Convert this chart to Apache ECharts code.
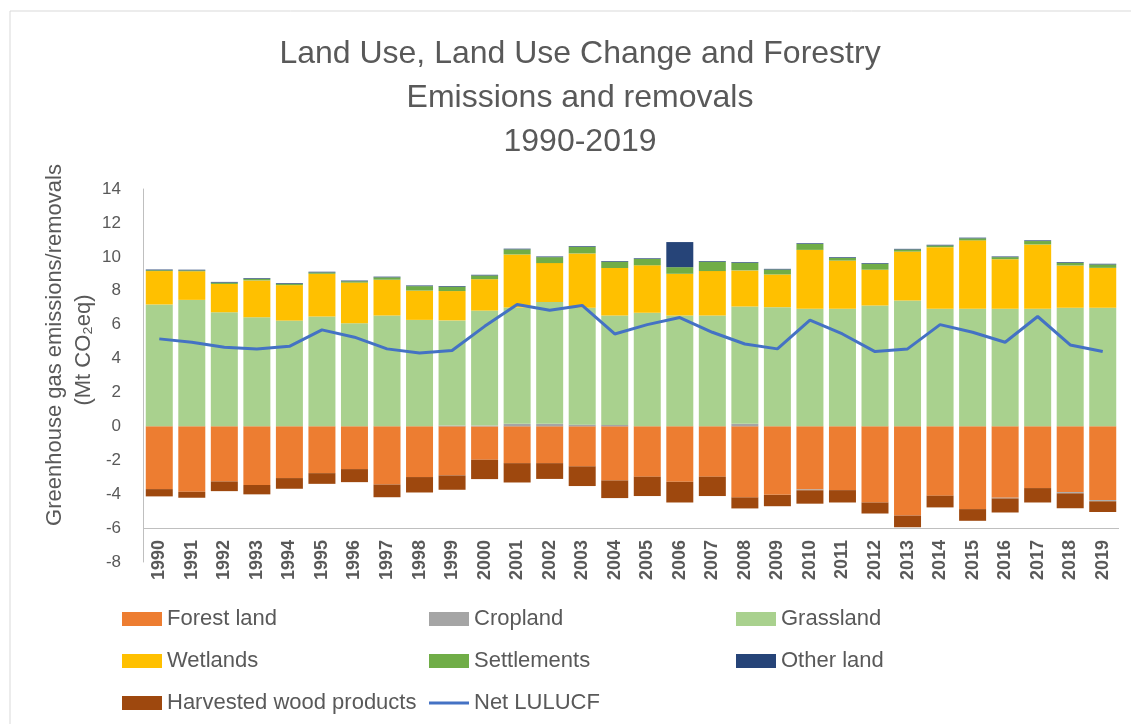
<!DOCTYPE html>
<html>
<head>
<meta charset="utf-8">
<script src="https://cdn.jsdelivr.net/npm/echarts@6/dist/echarts.min.js"></script>
<style>
html,body{margin:0;padding:0;background:#fff;}
#chart{width:1131px;height:724px;}
</style>
</head>
<body>
<div id="chart"></div>
<script>
const years = ['1990','1991','1992','1993','1994','1995','1996','1997','1998','1999','2000','2001','2002','2003','2004','2005','2006','2007','2008','2009','2010','2011','2012','2013','2014','2015','2016','2017','2018','2019'];
const forestLand = [-3.70,-3.86,-3.25,-3.46,-3.05,-2.76,-2.52,-3.43,-2.99,-2.89,-1.97,-2.17,-2.17,-2.36,-3.19,-2.97,-3.27,-2.97,-4.19,-4.04,-3.72,-3.76,-4.49,-5.26,-4.09,-4.88,-4.21,-3.64,-3.88,-4.35];
const cropland = [0,0,0,0,0,0,0,0,0,0.05,0.05,0.15,0.15,0.10,0.08,0,0,0,0.15,0,-0.05,0,0,0,0,0,-0.04,0,-0.07,-0.07];
const grassland = [7.19,7.46,6.73,6.44,6.24,6.48,6.08,6.54,6.28,6.20,6.78,6.86,7.18,6.90,6.46,6.70,6.54,6.54,6.92,7.03,6.93,6.93,7.13,7.42,6.93,6.93,6.93,6.93,6.99,6.99];
const wetlands = [1.97,1.69,1.67,2.17,2.09,2.52,2.40,2.11,1.73,1.73,1.85,3.13,2.30,3.20,2.80,2.80,2.46,2.62,2.13,1.93,3.48,2.85,2.11,2.89,3.64,4.04,2.93,3.80,2.50,2.36];
const settlements = [0.05,0.05,0.08,0.09,0.08,0.08,0.08,0.14,0.26,0.26,0.22,0.30,0.35,0.39,0.37,0.37,0.39,0.55,0.45,0.29,0.35,0.16,0.35,0.12,0.10,0.12,0.12,0.20,0.16,0.20];
const otherLand = [0.04,0.04,0.04,0.04,0.04,0.04,0.04,0.04,0.04,0.04,0.04,0.04,0.04,0.04,0.04,0.04,1.48,0.04,0.04,0.04,0.04,0.04,0.04,0.04,0.04,0.04,0.04,0.04,0.04,0.04];
const harvestedWood = [-0.43,-0.35,-0.57,-0.55,-0.63,-0.63,-0.77,-0.75,-0.91,-0.85,-1.14,-1.14,-0.93,-1.16,-1.04,-1.14,-1.22,-1.14,-0.65,-0.67,-0.79,-0.73,-0.65,-0.69,-0.69,-0.69,-0.83,-0.85,-0.88,-0.63];
const netLULUCF = [5.16,4.96,4.67,4.57,4.72,5.69,5.26,4.57,4.33,4.47,5.90,7.19,6.85,7.13,5.45,6.00,6.42,5.55,4.86,4.57,6.27,5.45,4.41,4.57,6.00,5.55,4.96,6.48,4.80,4.41];

const FONT = "'Liberation Sans', Arial, sans-serif";
const TXT = '#595959';

const chart = echarts.init(document.getElementById('chart'));

function barSeries(name, data, color, extra) {
  return Object.assign({
    name: name, type: 'bar', stack: 'total', data: data,
    itemStyle: { color: color },
    barCategoryGap: '17%',
    emphasis: { disabled: true }
  }, extra || {});
}

const option = {
  animation: false,
  title: {
    text: 'Land Use, Land Use Change and Forestry\nEmissions and removals\n1990-2019',
    left: 575,
    top: 27,
    textAlign: 'center',
    textStyle: { fontFamily: FONT, fontSize: 32, fontWeight: 'normal', color: TXT, lineHeight: 44, align: 'center' }
  },
  grid: { left: 143, right: 12, top: 189, bottom: 162 },
  xAxis: {
    type: 'category', data: years,
    axisLine: { show: false }, axisTick: { show: false },
    axisLabel: { rotate: 90, interval: 0, margin: -22, fontFamily: FONT, fontWeight: 'bold', fontSize: 18, color: TXT }
  },
  yAxis: {
    type: 'value', min: -8, max: 14, interval: 2,
    splitLine: { show: false },
    axisLine: { show: true, lineStyle: { color: '#bfbfbf', width: 1 } },
    axisTick: { show: false },
    axisLabel: { margin: 22, fontFamily: FONT, fontSize: 17, color: TXT }
  },
  legend: {
    left: 117, top: 598, width: 960,
    itemWidth: 40, itemHeight: 14, itemGap: 10,
    selectedMode: false,
    textStyle: { fontFamily: FONT, fontSize: 22, color: TXT, width: 252, lineHeight: 32, overflow: 'none' },
    data: [
      { name: 'Forest land', icon: 'rect' },
      { name: 'Cropland', icon: 'rect' },
      { name: 'Grassland', icon: 'rect' },
      { name: 'Wetlands', icon: 'rect' },
      { name: 'Settlements', icon: 'rect' },
      { name: 'Other land', icon: 'rect' },
      { name: 'Harvested wood products', icon: 'rect' },
      { name: 'Net LULUCF', icon: 'path://M0,0L40,0L40,0.01L0,0.01ZM0,5.5L40,5.5L40,8.5L0,8.5ZM0,13.99L40,13.99L40,14L0,14Z', itemStyle: { color: '#4472C4' } }
    ]
  },
  graphic: [
    { type: 'rect', shape: { x: 10, y: 11, width: 1400, height: 1000 }, style: { fill: 'none', stroke: '#d9d9d9', lineWidth: 1 }, silent: true, z: -1 },
    { type: 'text', x: 55, y: 345, rotation: Math.PI / 2, style: { text: 'Greenhouse gas emissions/removals', font: '22px ' + FONT, fill: TXT, align: 'center', verticalAlign: 'middle' } },
    { type: 'text', x: 84, y: 350, rotation: Math.PI / 2, style: { text: '(Mt CO₂eq)', font: '22px ' + FONT, fill: TXT, align: 'center', verticalAlign: 'middle' } }
  ],
  series: [
    barSeries('Forest land', forestLand, '#ED7D31', {
      markLine: { silent: true, symbol: 'none', label: { show: false }, lineStyle: { color: '#bfbfbf', width: 1, type: 'solid' }, data: [{ yAxis: -6 }] }
    }),
    barSeries('Cropland', cropland, '#A5A5A5'),
    barSeries('Grassland', grassland, '#A9D18E'),
    barSeries('Wetlands', wetlands, '#FFC000'),
    barSeries('Settlements', settlements, '#70AD47'),
    barSeries('Other land', otherLand, '#264478'),
    barSeries('Harvested wood products', harvestedWood, '#9E480E'),
    {
      name: 'Net LULUCF', type: 'line', data: netLULUCF, symbol: 'none',
      lineStyle: { color: '#4472C4', width: 3 }, itemStyle: { color: '#4472C4' }, z: 5,
      emphasis: { disabled: true }
    }
  ]
};
chart.setOption(option);
</script>
</body>
</html>
